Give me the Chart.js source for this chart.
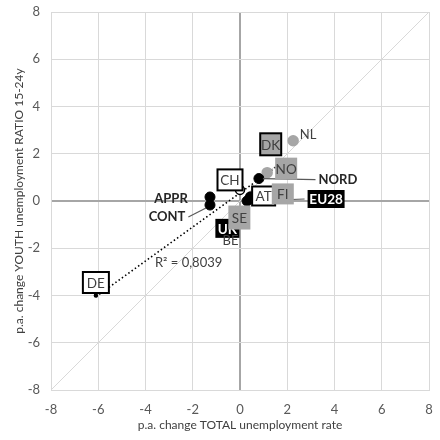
<!DOCTYPE html>
<html>
<head>
<meta charset="utf-8">
<script src="https://cdn.jsdelivr.net/npm/chart.js@4/dist/chart.umd.min.js"></script>
<style>
  html, body { margin: 0; padding: 0; background: #fff; }
  #wrap { width: 440px; height: 440px; }
</style>
</head>
<body>
<div id="wrap"><canvas id="c" width="440" height="440"></canvas></div>
<script>
// Annual change in total unemployment rate (x) vs. youth unemployment ratio 15-24y (y)
const countries = ['DE', 'NL', 'DK', 'NO', 'CH', 'AT', 'FI', 'SE', 'UK', 'BE'];
const countryX  = [-6.1, 2.25, 1.3, 1.15, 0.0, 0.45, 1.6, 0.1, -0.45, -0.4];
const countryY  = [-4.0, 2.55, 2.4, 1.2, 0.47, 0.17, 0.3, -0.7, -1.2, -1.35];

const groups = ['APPR', 'CONT', 'NORD', 'EU28'];
const groupX = [-1.27, -1.27, 0.8, 0.3];
const groupY = [0.17, -0.17, 0.95, 0.0];

// linear trend over the country series
const trendSlope = [0.72];
const trendIntercept = [0.34];
const trendRange = [-6.1, 1.75];
const rSquaredText = 'R² = 0,8039';

const axisTicks = [-8, -6, -4, -2, 0, 2, 4, 6, 8];

// marker looks for the country points
const countryFill   = ['#000', '#a6a6a6', '#a6a6a6', '#a6a6a6', '#fff', '#000', '#a6a6a6', '#a6a6a6', '#000', '#000'];
const countryBorder = ['#000', '#a6a6a6', '#a6a6a6', '#a6a6a6', '#000', '#000', '#a6a6a6', '#a6a6a6', '#000', '#000'];
const countryRadius = [1.5, 5, 4, 5, 4.5, 5, 4, 4, 4, 4];

// label boxes: offset from point, size and look
const countryLabels = [
  { dx: 0,   dy: -13, w: 26, h: 21, kind: 'boxWhite' },
  { dx: 15,  dy: -6,  w: 0,  h: 0,  kind: 'plain' },
  { dx: 0,   dy: 0,   w: 21, h: 22, kind: 'boxGreyBorder' },
  { dx: 19,  dy: -4,  w: 22, h: 22, kind: 'boxGrey' },
  { dx: -10, dy: -10, w: 25, h: 21, kind: 'boxWhite' },
  { dx: 13,  dy: -1,  w: 23, h: 19, kind: 'boxWhite' },
  { dx: 5,   dy: 0,   w: 22, h: 21, kind: 'boxGrey' },
  { dx: -3,  dy: 0,   w: 22, h: 24, kind: 'boxGrey' },
  { dx: -2,  dy: -1,  w: 24, h: 19, kind: 'boxBlack' },
  { dx: 0,   dy: 8,   w: 0,  h: 0,  kind: 'plain' }
];
const countryDrawOrder = [0, 2, 1, 3, 4, 5, 6, 8, 7, 9];

const groupLabels = [
  { dx: -39, dy: 2,  w: 0,  h: 0,  kind: 'bold', leader: false },
  { dx: -43, dy: 12, w: 0,  h: 0,  kind: 'bold', leader: true },
  { dx: 79,  dy: 1,  w: 0,  h: 0,  kind: 'bold', leader: true },
  { dx: 79,  dy: -2, w: 37, h: 18, kind: 'boxBlack', leader: true }
];

const FONT = 'Lato, "Open Sans", sans-serif';

function toPts(xs, ys) { return xs.map((x, i) => ({ x: x, y: ys[i] })); }

const trendPts = trendRange.map(x => ({ x: x, y: trendIntercept[0] + trendSlope[0] * x }));
const diagPts = [{ x: axisTicks[0], y: axisTicks[0] }, { x: axisTicks[axisTicks.length - 1], y: axisTicks[axisTicks.length - 1] }];

const labelPlugin = {
  id: 'pointLabels',
  afterDatasetsDraw(chart) {
    const ctx = chart.ctx;
    const xs = chart.scales.x, ys = chart.scales.y;
    ctx.save();

    // R² annotation
    ctx.font = '13px ' + FONT;
    ctx.fillStyle = '#404040';
    ctx.textAlign = 'left';
    ctx.textBaseline = 'middle';
    ctx.fillText(rSquaredText, xs.getPixelForValue(-3.6), ys.getPixelForValue(-2.63));

    function drawLabel(px, py, text, spec) {
      const cx = px + spec.dx, cy = py + spec.dy;
      ctx.textAlign = 'center';
      ctx.textBaseline = 'middle';
      if (spec.kind.startsWith('box')) {
        const w = spec.w, h = spec.h;
        let fill = '#fff', stroke = null, txt = '#404040';
        if (spec.kind === 'boxWhite') { fill = '#fff'; stroke = '#000'; txt = '#404040'; }
        if (spec.kind === 'boxGreyBorder') { fill = '#a6a6a6'; stroke = '#000'; txt = '#404040'; }
        if (spec.kind === 'boxGrey') { fill = '#a6a6a6'; stroke = null; txt = '#404040'; }
        if (spec.kind === 'boxBlack') { fill = '#000'; stroke = null; txt = '#fff'; }
        ctx.fillStyle = fill;
        ctx.fillRect(cx - w / 2, cy - h / 2, w, h);
        if (stroke) {
          ctx.strokeStyle = stroke;
          ctx.lineWidth = 2;
          ctx.strokeRect(cx - w / 2, cy - h / 2, w, h);
        }
        ctx.fillStyle = txt;
        ctx.font = (spec.kind === 'boxBlack' ? 'bold 13.5px ' : '13.5px ') + FONT;
        ctx.fillText(text, cx, cy + 1);
      } else if (spec.kind === 'bold') {
        ctx.font = 'bold 13px ' + FONT;
        ctx.fillStyle = '#262626';
        ctx.fillText(text, cx, cy);
      } else {
        ctx.font = '13px ' + FONT;
        ctx.fillStyle = '#404040';
        ctx.fillText(text, cx, cy);
      }
    }

    // leader lines for the aggregates
    ctx.strokeStyle = '#595959';
    ctx.lineWidth = 1.2;
    groups.forEach((g, i) => {
      const spec = groupLabels[i];
      if (!spec.leader) return;
      const px = xs.getPixelForValue(groupX[i]), py = ys.getPixelForValue(groupY[i]);
      ctx.font = 'bold 13px ' + FONT;
      const half = (spec.w || ctx.measureText(g).width) / 2;
      const ex = spec.dx > 0 ? px + spec.dx - half - 3 : px + spec.dx + half + 3;
      ctx.beginPath();
      ctx.moveTo(px + (spec.dx > 0 ? 4 : -4), py + (spec.dy > 6 ? 3 : 0));
      ctx.lineTo(ex, py + spec.dy);
      ctx.stroke();
    });

    countryDrawOrder.forEach(i => {
      const px = xs.getPixelForValue(countryX[i]), py = ys.getPixelForValue(countryY[i]);
      drawLabel(px, py, countries[i], countryLabels[i]);
    });
    groups.forEach((g, i) => {
      const px = xs.getPixelForValue(groupX[i]), py = ys.getPixelForValue(groupY[i]);
      drawLabel(px, py, g, groupLabels[i]);
    });
    ctx.restore();
  }
};

const gridColor = ctx => (ctx.tick && ctx.tick.value === 0) ? '#a6a6a6' : '#d9d9d9';
const gridWidth = ctx => (ctx.tick && ctx.tick.value === 0) ? 2 : 1;

new Chart(document.getElementById('c'), {
  type: 'scatter',
  data: {
    datasets: [
      {
        type: 'line', data: diagPts, borderColor: '#d9d9d9', borderWidth: 1,
        pointRadius: 0, fill: false, order: 5
      },
      {
        type: 'line', data: trendPts, borderColor: '#000', borderWidth: 1.6,
        borderDash: [1.5, 2.5], pointRadius: 0, fill: false, order: 4
      },
      {
        data: toPts(countryX, countryY),
        pointBackgroundColor: countryFill, pointBorderColor: countryBorder,
        pointRadius: countryRadius, pointBorderWidth: 1.5, order: 2
      },
      {
        data: toPts(groupX, groupY),
        pointBackgroundColor: '#000', pointBorderColor: '#000',
        pointRadius: 5, pointBorderWidth: 1, order: 1
      }
    ]
  },
  options: {
    responsive: false,
    animation: false,
    devicePixelRatio: 1,
    layout: { padding: { left: 0, right: 11, top: 12, bottom: 0 } },
    plugins: { legend: { display: false }, tooltip: { enabled: false } },
    scales: {
      x: {
        type: 'linear', min: -8, max: 8,
        afterBuildTicks: s => { s.ticks = axisTicks.map(v => ({ value: v })); },
        afterFit: s => { s.height = 50; s.paddingLeft = 0; s.paddingRight = 0; },
        grid: { color: gridColor, lineWidth: gridWidth, drawTicks: false },
        border: { display: true, color: '#d9d9d9' },
        ticks: { color: '#595959', font: { size: 13, family: FONT }, padding: 12, maxRotation: 0 },
        title: {
          display: true, text: 'p.a. change TOTAL unemployment rate',
          color: '#404040', font: { size: 12, family: FONT }, padding: { top: 2, bottom: 8 }
        }
      },
      y: {
        type: 'linear', min: -8, max: 8,
        afterBuildTicks: s => { s.ticks = axisTicks.map(v => ({ value: v })); },
        afterFit: s => { s.width = 51; s.paddingTop = 0; s.paddingBottom = 0; },
        grid: { color: gridColor, lineWidth: gridWidth, drawTicks: false },
        border: { display: true, color: '#d9d9d9' },
        ticks: { color: '#595959', font: { size: 13, family: FONT }, padding: 11 },
        title: {
          display: true, text: 'p.a. change YOUTH unemployment RATIO 15-24y',
          color: '#404040', font: { size: 12, family: FONT }, padding: { top: 12, bottom: 0 }
        }
      }
    }
  },
  plugins: [labelPlugin]
});
</script>
</body>
</html>
